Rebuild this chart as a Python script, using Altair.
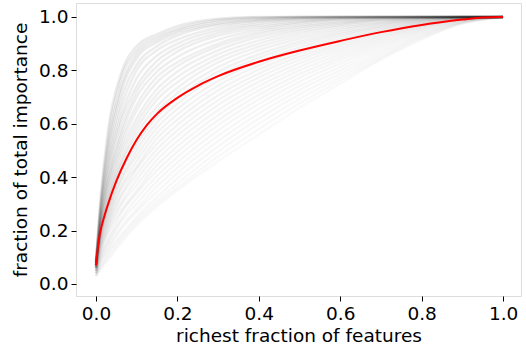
import altair as alt
import pandas as pd

# x positions shared by all gray curves
x_grid = [0.0, 0.01, 0.03, 0.06, 0.1, 0.15, 0.2, 0.3, 0.4, 0.5, 0.6, 0.7, 0.8, 0.9, 1.0]

# mean curve (red)
mean_x = [0.0, 0.005, 0.01, 0.02, 0.03, 0.05, 0.075, 0.1, 0.125, 0.15, 0.2, 0.25, 0.3,
          0.4, 0.5, 0.6, 0.7, 0.8, 0.9, 0.95, 1.0]
mean_y = [0.07, 0.14, 0.19, 0.25, 0.30, 0.385, 0.47, 0.54, 0.595, 0.637, 0.697, 0.742, 0.778,
          0.832, 0.874, 0.91, 0.943, 0.97, 0.99, 0.998, 1.0]

# individual curves (gray), top to bottom
gray_curves = [
    [0.09, 0.30, 0.58, 0.78, 0.89, 0.935, 0.965, 0.993, 1.0, 1.0, 1.0, 1.0, 1.0, 1.0, 1.0],
    [0.08, 0.28, 0.55, 0.76, 0.875, 0.925, 0.955, 0.988, 0.998, 1.0, 1.0, 1.0, 1.0, 1.0, 1.0],
    [0.07, 0.27, 0.52, 0.73, 0.86, 0.915, 0.948, 0.982, 0.995, 1.0, 1.0, 1.0, 1.0, 1.0, 1.0],
    [0.08, 0.26, 0.50, 0.71, 0.845, 0.905, 0.94, 0.975, 0.99, 0.998, 1.0, 1.0, 1.0, 1.0, 1.0],
    [0.09, 0.25, 0.47, 0.68, 0.82, 0.89, 0.93, 0.97, 0.987, 0.996, 1.0, 1.0, 1.0, 1.0, 1.0],
    [0.06, 0.24, 0.45, 0.65, 0.80, 0.875, 0.915, 0.96, 0.982, 0.993, 0.999, 1.0, 1.0, 1.0, 1.0],
    [0.07, 0.23, 0.43, 0.62, 0.77, 0.855, 0.90, 0.95, 0.975, 0.99, 0.997, 1.0, 1.0, 1.0, 1.0],
    [0.08, 0.22, 0.41, 0.60, 0.74, 0.835, 0.885, 0.94, 0.968, 0.985, 0.995, 0.999, 1.0, 1.0, 1.0],
    [0.07, 0.22, 0.39, 0.57, 0.72, 0.815, 0.87, 0.93, 0.96, 0.98, 0.992, 0.998, 1.0, 1.0, 1.0],
    [0.06, 0.21, 0.38, 0.55, 0.70, 0.795, 0.85, 0.915, 0.952, 0.975, 0.99, 0.997, 1.0, 1.0, 1.0],
    [0.08, 0.20, 0.36, 0.53, 0.67, 0.775, 0.83, 0.90, 0.943, 0.968, 0.985, 0.995, 0.999, 1.0, 1.0],
    [0.07, 0.20, 0.35, 0.51, 0.65, 0.755, 0.815, 0.89, 0.935, 0.962, 0.98, 0.992, 0.998, 1.0, 1.0],
    [0.06, 0.19, 0.33, 0.49, 0.62, 0.73, 0.795, 0.875, 0.925, 0.955, 0.975, 0.99, 0.997, 1.0, 1.0],
    [0.07, 0.19, 0.32, 0.47, 0.60, 0.71, 0.775, 0.86, 0.912, 0.947, 0.97, 0.987, 0.996, 1.0, 1.0],
    [0.08, 0.18, 0.31, 0.45, 0.58, 0.69, 0.755, 0.845, 0.90, 0.938, 0.964, 0.983, 0.995, 1.0, 1.0],
    [0.06, 0.18, 0.30, 0.44, 0.56, 0.665, 0.735, 0.83, 0.888, 0.928, 0.957, 0.978, 0.993, 0.999, 1.0],
    [0.07, 0.17, 0.29, 0.42, 0.54, 0.645, 0.715, 0.812, 0.875, 0.918, 0.95, 0.974, 0.991, 0.999, 1.0],
    [0.06, 0.17, 0.28, 0.41, 0.52, 0.625, 0.695, 0.795, 0.86, 0.907, 0.942, 0.969, 0.989, 0.998, 1.0],
    [0.07, 0.16, 0.27, 0.39, 0.50, 0.605, 0.675, 0.778, 0.847, 0.897, 0.935, 0.964, 0.987, 0.998, 1.0],
    [0.05, 0.16, 0.26, 0.38, 0.48, 0.585, 0.655, 0.76, 0.832, 0.886, 0.927, 0.959, 0.985, 0.997, 1.0],
    [0.06, 0.15, 0.25, 0.36, 0.46, 0.565, 0.635, 0.742, 0.818, 0.875, 0.918, 0.954, 0.982, 0.997, 1.0],
    [0.07, 0.14, 0.24, 0.35, 0.44, 0.545, 0.615, 0.725, 0.803, 0.863, 0.91, 0.948, 0.979, 0.996, 1.0],
    [0.05, 0.14, 0.23, 0.33, 0.43, 0.525, 0.595, 0.706, 0.788, 0.851, 0.90, 0.942, 0.976, 0.995, 1.0],
    [0.06, 0.13, 0.22, 0.32, 0.41, 0.505, 0.575, 0.688, 0.773, 0.839, 0.891, 0.936, 0.973, 0.994, 1.0],
    [0.05, 0.12, 0.21, 0.30, 0.39, 0.485, 0.555, 0.67, 0.757, 0.826, 0.881, 0.929, 0.97, 0.993, 1.0],
    [0.04, 0.12, 0.20, 0.29, 0.37, 0.465, 0.535, 0.651, 0.741, 0.813, 0.871, 0.922, 0.966, 0.992, 1.0],
    [0.05, 0.11, 0.19, 0.27, 0.35, 0.445, 0.515, 0.632, 0.725, 0.80, 0.86, 0.915, 0.962, 0.991, 1.0],
    [0.04, 0.10, 0.17, 0.26, 0.34, 0.425, 0.495, 0.613, 0.708, 0.786, 0.849, 0.907, 0.958, 0.99, 1.0],
    [0.05, 0.10, 0.16, 0.24, 0.32, 0.405, 0.475, 0.594, 0.691, 0.772, 0.838, 0.899, 0.953, 0.988, 1.0],
    [0.04, 0.09, 0.15, 0.23, 0.30, 0.385, 0.455, 0.575, 0.674, 0.757, 0.826, 0.89, 0.948, 0.986, 1.0],
    [0.03, 0.08, 0.14, 0.21, 0.28, 0.365, 0.435, 0.555, 0.656, 0.741, 0.813, 0.881, 0.943, 0.984, 1.0],
    [0.04, 0.08, 0.13, 0.20, 0.27, 0.345, 0.415, 0.535, 0.638, 0.726, 0.80, 0.872, 0.937, 0.982, 1.0],
    [0.03, 0.07, 0.12, 0.18, 0.25, 0.325, 0.395, 0.515, 0.619, 0.71, 0.787, 0.862, 0.932, 0.98, 1.0],
    [0.04, 0.06, 0.11, 0.17, 0.24, 0.31, 0.375, 0.495, 0.60, 0.693, 0.774, 0.853, 0.926, 0.978, 1.0],
    [0.03, 0.06, 0.10, 0.16, 0.23, 0.30, 0.36, 0.477, 0.58, 0.676, 0.762, 0.846, 0.921, 0.976, 1.0],
    [0.03, 0.05, 0.09, 0.15, 0.22, 0.29, 0.35, 0.46, 0.56, 0.66, 0.75, 0.84, 0.915, 0.975, 1.0],
]

tick_values = [0.0, 0.2, 0.4, 0.6, 0.8, 1.0]

rows = []
for i, curve in enumerate(gray_curves):
    for xv, yv in zip(x_grid, curve):
        rows.append({"curve": i, "x": xv, "y": yv})
gray_df = pd.DataFrame(rows)
mean_df = pd.DataFrame({"x": mean_x, "y": mean_y})

FONT = "DejaVu Sans"
FS = 18.5
x_scale = alt.Scale(domain=[-0.049, 1.044], nice=False, zero=False)
y_scale = alt.Scale(domain=[-0.045, 1.052], nice=False, zero=False)
common = dict(grid=False, domain=False, tickSize=5, tickColor="black", labelColor="black",
              titleColor="black", labelFontSize=FS, titleFontSize=FS, labelFont=FONT,
              titleFont=FONT, titleFontWeight="normal", labelPadding=3)
x_axis = alt.Axis(values=tick_values, format=".1f", title="richest fraction of features",
                  titlePadding=4, **common)
y_axis = alt.Axis(values=tick_values, format=".1f", title="fraction of total importance",
                  titlePadding=8, **common)

n_curves = len(gray_curves)
gray = alt.Chart(gray_df).mark_line(color="black", strokeWidth=2.5,
                                   interpolate="monotone").encode(
    x=alt.X("x:Q", scale=x_scale, axis=x_axis),
    y=alt.Y("y:Q", scale=y_scale, axis=y_axis),
    detail="curve:N",
    opacity=alt.Opacity("curve:Q", scale=alt.Scale(domain=[0, n_curves - 1], range=[0.08, 0.025]),
                        legend=None),
)

red = alt.Chart(mean_df).mark_line(color="red", strokeWidth=2,
                                  interpolate="monotone").encode(
    x=alt.X("x:Q", scale=x_scale),
    y=alt.Y("y:Q", scale=y_scale),
)

chart = (gray + red).properties(
    width=445, height=293, autosize="none",
    padding={"left": 76, "top": 3, "right": 5, "bottom": 58},
).configure_view(stroke="#333333", strokeWidth=1.2).configure(background="white")

chart.save("out.html", embed_options={"renderer": "svg", "actions": False})
